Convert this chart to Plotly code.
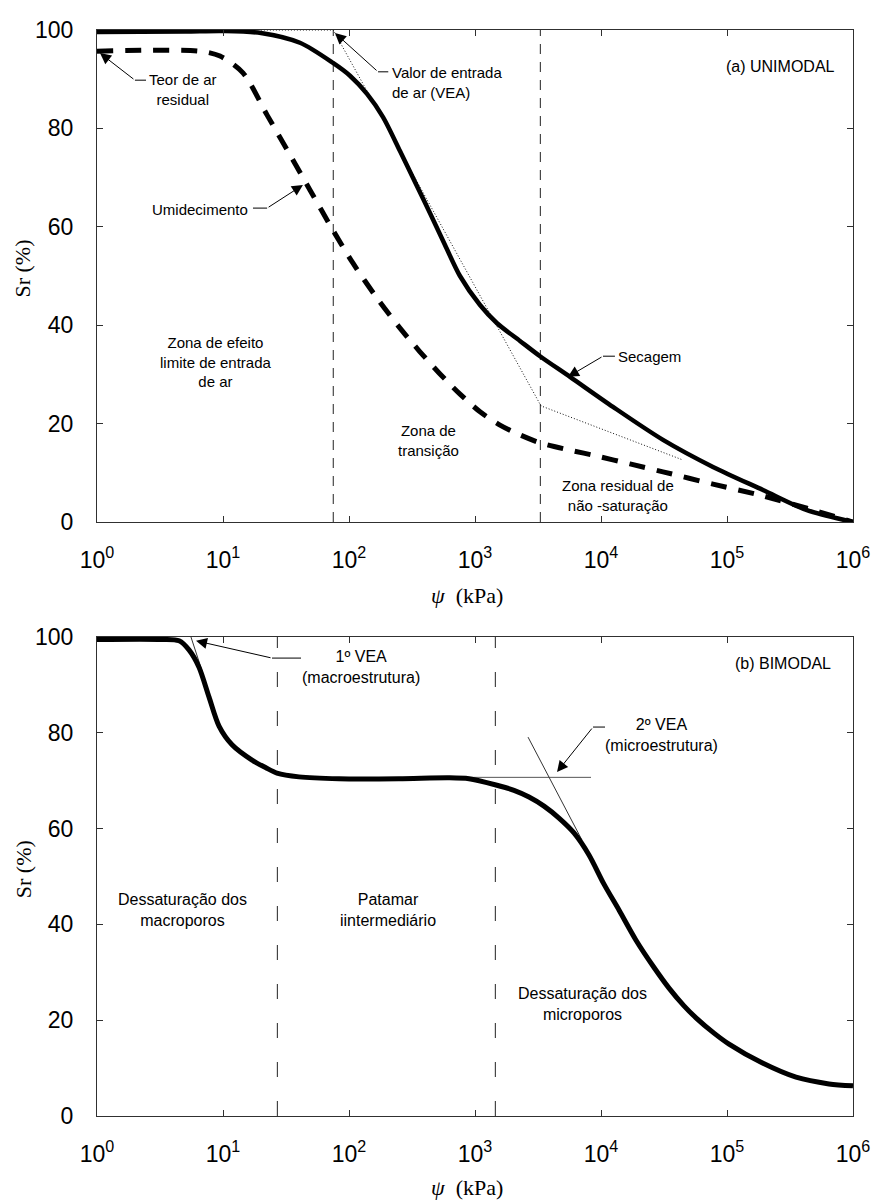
import numpy as np
import plotly.graph_objects as go

# ---------------- data ----------------
# (a) UNIMODAL
dry_psi = [1, 5, 10, 20, 40.8, 74.6, 101.8, 139, 186.2, 253.9, 334, 439, 578, 760, 1096,
           1496, 2275, 3281, 5676, 12450, 31050, 77400, 193000, 431000, 1e6]
dry_sr = [99.6, 99.7, 99.8, 99.4, 97.4, 93.3, 90.7, 87.0, 82.3, 75.4, 69.1, 62.8, 56.3,
          50.0, 44.1, 40.4, 36.8, 33.7, 29.5, 23.4, 16.7, 11.2, 6.5, 2.4, 0]
wet_psi = [1, 6.57, 9.47, 14.4, 22.4, 35.9, 49.0, 74.6, 107.6, 166.8, 253.9, 365.8, 527.6,
           760.5, 1096, 1579, 2276, 3281, 5676, 9296, 16980, 31050, 77400, 193000, 431000, 1e6]
wet_sr = [95.7, 95.7, 94.7, 91.3, 82.7, 73.6, 67.5, 59.3, 52.6, 45.5, 39.4, 34.6, 30.1,
          26.0, 22.4, 19.7, 17.7, 16.1, 14.6, 13.4, 11.8, 10.2, 7.7, 5.3, 2.8, 0]
tan_a_psi = [20, 75, 3340, 44700]
tan_a_sr = [100, 100, 23.6, 12.6]
vlines_a = [75, 3300]

# (b) BIMODAL
bi_psi = [1, 3.28, 4.48, 5.37, 6.45, 7.74, 9.30, 11.8, 17.0, 21.9, 26.8, 40.1, 83.3, 249,
          622, 896, 1468, 2040, 2683, 3530, 4642, 6105, 8030, 10560, 13890, 18960, 26360,
          34650, 45580, 56750, 78840, 103800, 189600, 353000, 645000, 1e6]
bi_sr = [99.5, 99.5, 99.2, 97.3, 93.7, 87.5, 81.4, 77.5, 74.3, 72.7, 71.6, 70.8, 70.4, 70.4,
         70.6, 70.4, 69.1, 68.0, 66.6, 64.7, 62.2, 59.1, 54.5, 48.4, 43.0, 36.7, 31.0,
         26.7, 23.0, 20.5, 17.3, 15.0, 11.1, 8.1, 6.7, 6.3]
tan_b1_psi = [5.57, 7.0]
tan_b1_sr = [100, 92]
tan_b2_psi = [300, 8330]
tan_b2_sr = [70.7, 70.7]
tan_b3_psi = [2636, 7065]
tan_b3_sr = [79.1, 57.6]
vlines_b = [27, 1450]

tick_vals = [1, 10, 100, 1e3, 1e4, 1e5, 1e6]
tick_text = ["10<sup>%d</sup>" % i for i in range(7)]
y_ticks = [0, 20, 40, 60, 80, 100]

# arrows: tip psi, tip sr, tail psi, tail sr, elbow-end psi
arrows_a = [
    (1.056, 95.3, 2.0, 89.8, 2.45),
    (77.4, 99.4, 170, 91.5, 205),
    (43.1, 68.5, 22.4, 63.8, 17.3),
    (5470, 29.5, 10370, 33.7, 12900),
]
arrows_b = [
    (6.11, 99.2, 24.5, 95.6, 41.6),
    (4477, 71.8, 8645, 81.2, 10760),
]

# labels: text, psi, sr, anchor, size
labels_a = [
    ("Teor de ar<br>residual", 4.81, 87.9, "center", 15),
    ("Valor de entrada<br>de ar (VEA)", 211, 89.4, "left", 15),
    ("Umidecimento", 6.57, 63.6, "center", 15),
    ("Secagem", 24050, 33.7, "center", 15),
    ("Zona de efeito<br>limite de entrada<br>de ar", 8.80, 32.5, "center", 15),
    ("Zona de<br>transição", 424, 16.5, "center", 15),
    ("Zona residual de<br>não -saturação", 13640, 5.3, "center", 15),
    ("(a) UNIMODAL", 263600, 92.5, "center", 16),
]
labels_b = [
    ("1º VEA<br>(macroestrutura)", 124.6, 93.7, "center", 16),
    ("2º VEA<br>(microestrutura)", 30480, 79.5, "center", 16),
    ("(b) BIMODAL", 278000, 94.4, "center", 16),
    ("Dessaturação dos<br>macroporos", 4.81, 43.0, "center", 16),
    ("Patamar<br>iintermediário", 204, 43.0, "center", 16),
    ("Dessaturação dos<br>microporos", 7070, 23.4, "center", 16),
]

# ---------------- figure ----------------
SANS = "Liberation Sans, Arial, sans-serif"
SERIF = "Liberation Serif, Times New Roman, serif"
BLACK = "#000000"
AX = "#303030"

fig = go.Figure()


def line(xs, ys, xa, ya, width, dash="solid", color=BLACK, shape="linear"):
    fig.add_trace(go.Scatter(x=xs, y=ys, xaxis=xa, yaxis=ya, mode="lines",
                             line=dict(color=color, width=width, dash=dash, shape=shape,
                                       smoothing=0.8),
                             showlegend=False, hoverinfo="skip"))


# top panel
for v in vlines_a:
    line([v, v], [0, 100], "x", "y", 1, "10px,8px", "#222222")
line(tan_a_psi, tan_a_sr, "x", "y", 1, "1px,2px", "#111111")
line(wet_psi, wet_sr, "x", "y", 5, "16px,12px", shape="spline")
line(dry_psi, dry_sr, "x", "y", 4.5, shape="spline")

# bottom panel
for v in vlines_b:
    line([v, v], [0, 100], "x2", "y2", 1, "15px,24px", "#222222")
line(tan_b1_psi, tan_b1_sr, "x2", "y2", 1, color="#333333")
line(tan_b2_psi, tan_b2_sr, "x2", "y2", 1, color="#555555")
line(tan_b3_psi, tan_b3_sr, "x2", "y2", 1, color="#333333")
line(bi_psi, bi_sr, "x2", "y2", 5, shape="spline")

annotations = []


def add_arrows(arrows, xr, yr):
    for tp, ts, lp, ls, ep in arrows:
        line([lp, ep], [ls, ls], xr, yr, 1)
        annotations.append(dict(
            x=np.log10(tp), y=ts, ax=np.log10(lp), ay=ls, xref=xr, yref=yr,
            axref=xr, ayref=yr, text="", showarrow=True, arrowhead=2,
            arrowsize=2.2, arrowwidth=1, arrowcolor=BLACK, standoff=0, startstandoff=0))


def add_labels(labels, xr, yr):
    for t, p, s, anc, sz in labels:
        annotations.append(dict(
            x=np.log10(p), y=s, xref=xr, yref=yr, text=t, showarrow=False,
            xanchor=anc, yanchor="middle", align=anc,
            font=dict(family=SANS, size=sz, color=BLACK)))


add_arrows(arrows_a, "x", "y")
add_arrows(arrows_b, "x2", "y2")
add_labels(labels_a, "x", "y")
add_labels(labels_b, "x2", "y2")

# axis titles
for xd, yd in (("x domain", "y domain"), ("x2 domain", "y2 domain")):
    annotations.append(dict(x=0.49, y=-0.15, xref=xd, yref=yd, showarrow=False,
                            text="<i>ψ</i>\u00a0\u00a0(kPa)", xanchor="center", yanchor="middle",
                            font=dict(family=SERIF, size=22, color=BLACK)))
    annotations.append(dict(x=-0.098, y=0.515, xref=xd, yref=yd, showarrow=False,
                            text="Sr (%)", textangle=-90, xanchor="center", yanchor="middle",
                            font=dict(family=SERIF, size=22, color=BLACK)))

xcommon = dict(type="log", range=[0, 6], tickvals=tick_vals, ticktext=tick_text,
               ticks="inside", ticklen=6, tickcolor=AX, showline=True, linecolor=AX,
               linewidth=1, mirror="ticks", showgrid=False, zeroline=False,
               tickfont=dict(family=SANS, size=23, color=BLACK), ticklabelstandoff=17,
               domain=[0, 1])
ycommon = dict(range=[0, 100], tickvals=y_ticks, ticks="inside", ticklen=6, tickcolor=AX,
               showline=True, linecolor=AX, linewidth=1, mirror="ticks", showgrid=False,
               zeroline=False, tickfont=dict(family=SANS, size=23, color=BLACK),
               ticklabelstandoff=18)

fig.update_layout(
    width=882, height=1203,
    margin=dict(l=97, r=29, t=30, b=87),
    paper_bgcolor="white", plot_bgcolor="white",
    xaxis=dict(xcommon, anchor="y"),
    yaxis=dict(ycommon, anchor="x", domain=[1 - 492 / 1086, 1]),
    xaxis2=dict(xcommon, anchor="y2"),
    yaxis2=dict(ycommon, anchor="x2", domain=[0, 479 / 1086]),
    annotations=annotations,
    showlegend=False,
)

fig.write_html("out.html")
